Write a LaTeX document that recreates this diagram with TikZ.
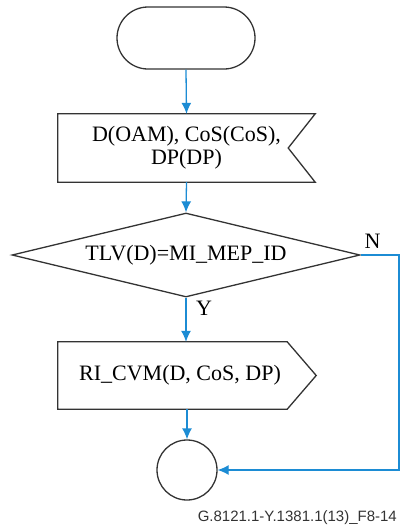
\documentclass[tikz,border=0pt]{standalone}
\usepackage{fontspec}
\setmainfont{Liberation Serif}
\setsansfont{Liberation Sans}
\usetikzlibrary{arrows.meta,calc,shapes.geometric}
\definecolor{FlowClr}{rgb}{0.11,0.55,0.83}
\definecolor{LineClr}{rgb}{0.2,0.2,0.2}

\begin{document}
\begin{tikzpicture}[x=1pt,y=-1pt]
\tikzset{
  box/.style={line width=1.3pt,draw=LineClr,font=\fontsize{22}{23}\selectfont,align=center},
  flow/.style={line width=1.3pt,color=FlowClr,-{Latex[length=11pt,width=10pt]}},
  lbl/.style={font=\fontsize{22}{23}\selectfont,inner sep=0pt}
}
\useasboundingbox (0,0) rectangle (401,528);

\node[box,rounded corners=31pt,minimum width=138pt,minimum height=62pt] (start) at (186,38) {};

\node[minimum width=257pt,minimum height=68pt,align=center,font=\fontsize{22}{23}\selectfont] (dp) at (186.5,148) {D(OAM), CoS(CoS),\\DP(DP)};
\draw[line width=1.3pt,LineClr] (dp.north west) -- (dp.north east) -- ([xshift=-27pt]dp.east)
  -- (dp.south east) -- (dp.south west) -- cycle;

\node[box,diamond,aspect=4.14,inner sep=1pt,minimum width=348pt,minimum height=84pt] (dec) at (186,255) {TLV(D)=MI\_MEP\_ID};

\node[minimum width=244pt,minimum height=67pt,font=\fontsize{22}{23}\selectfont] (cvm) at (180,375.5) {RI\_CVM(D, CoS, DP)};
\draw[line width=1.3pt,LineClr] (cvm.north west) -- ([xshift=-15pt]cvm.north east) -- ([xshift=14pt]cvm.east)
  -- ([xshift=-15pt]cvm.south east) -- (cvm.south west) -- cycle;

\node[box,circle,minimum size=60pt,inner sep=0pt] (end) at (187,470) {};

\coordinate (corner) at (399,255);

\draw[flow] (start.south) -- (dp.north);
\draw[flow] (dp.south) -- (dec.north);
\draw[flow] (dec.south) -- (dec.south |- cvm.north);
\draw[flow] (end.north |- cvm.south) -- (end.north);
\draw[flow] (dec.east) -- (corner) |- (end.east);

\node[lbl,anchor=north west] (yes) at ($(dec.south)+(10,3)$) {Y};
\node[lbl,anchor=south] (no) at ($(dec.east)+(12,-6)$) {N};

\node[anchor=east,inner sep=0pt,font=\sffamily\fontsize{15}{16}\selectfont,text=LineClr] (cap) at (397,518) {G.8121.1-Y.1381.1(13)\_F8-14};
\end{tikzpicture}
\end{document}
